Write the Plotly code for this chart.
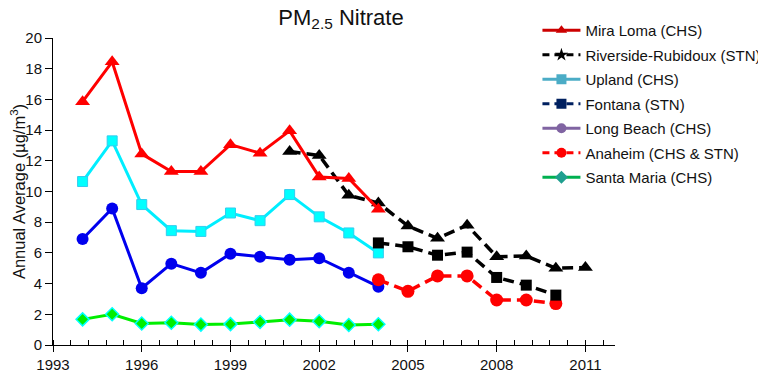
import plotly.graph_objects as go

years_a = [1994, 1995, 1996, 1997, 1998, 1999, 2000, 2001, 2002, 2003, 2004]
mira_loma = [15.85, 18.45, 12.45, 11.3, 11.3, 13.05, 12.5, 13.95, 10.95, 10.85, 8.85]
upland = [10.65, 13.3, 9.15, 7.45, 7.4, 8.6, 8.1, 9.8, 8.35, 7.3, 6.0]
long_beach = [6.9, 8.9, 3.7, 5.3, 4.7, 5.95, 5.75, 5.55, 5.65, 4.7, 3.8]
santa_maria = [1.67, 2.0, 1.4, 1.45, 1.33, 1.36, 1.5, 1.65, 1.55, 1.3, 1.35]

years_rr = [2001, 2002, 2003, 2004, 2005, 2006, 2007, 2008, 2009, 2010, 2011]
riverside = [12.6, 12.35, 9.75, 9.25, 7.75, 6.95, 7.8, 5.75, 5.8, 5.0, 5.05]
years_b = [2004, 2005, 2006, 2007, 2008, 2009, 2010]
fontana = [6.65, 6.4, 5.85, 6.05, 4.4, 3.9, 3.25]
anaheim = [4.25, 3.5, 4.5, 4.5, 2.93, 2.93, 2.7]

legend_names = ["Mira Loma (CHS)", "Riverside-Rubidoux (STN)", "Upland (CHS)", "Fontana (STN)",
                "Long Beach (CHS)", "Anaheim (CHS & STN)", "Santa Maria (CHS)"]

DASH = "11px,6px"
fig = go.Figure()

# data traces (plotted colours)
fig.add_trace(go.Scatter(x=years_a, y=santa_maria, mode="lines+markers", showlegend=False,
                         line=dict(color="#00ee00", width=3),
                         marker=dict(symbol="diamond", size=10, color="#00ee00", line=dict(color="#00ffff", width=1.5))))
fig.add_trace(go.Scatter(x=years_a, y=long_beach, mode="lines+markers", showlegend=False,
                         line=dict(color="#0000ee", width=3),
                         marker=dict(symbol="circle", size=12, color="#0000ee")))
fig.add_trace(go.Scatter(x=years_a, y=upland, mode="lines+markers", showlegend=False,
                         line=dict(color="#00eeff", width=3),
                         marker=dict(symbol="square", size=10, color="#00ffff", line=dict(color="#33ccee", width=1))))
fig.add_trace(go.Scatter(x=years_b, y=anaheim, mode="lines+markers", showlegend=False,
                         line=dict(color="#ff0000", width=3.5, dash=DASH),
                         marker=dict(symbol="circle", size=13, color="#ff0000")))
fig.add_trace(go.Scatter(x=years_b, y=fontana, mode="lines+markers", showlegend=False,
                         line=dict(color="#000000", width=3.5, dash=DASH),
                         marker=dict(symbol="square", size=11, color="#000000")))
fig.add_trace(go.Scatter(x=years_rr, y=riverside, mode="lines+markers", showlegend=False,
                         line=dict(color="#000000", width=3.5, dash=DASH),
                         marker=dict(symbol="triangle-up", size=13, color="#000000")))
fig.add_trace(go.Scatter(x=years_a, y=mira_loma, mode="lines+markers", showlegend=False,
                         line=dict(color="#ff0000", width=3),
                         marker=dict(symbol="triangle-up", size=13, color="#ff0000")))
# helper axis for the inner half of the major x ticks
fig.add_trace(go.Scatter(x=[None], y=[None], xaxis="x2", showlegend=False, hoverinfo="skip"))

# legend entries (legend colours differ from plotted colours in the original)
leg_styles = [
    ("#cc0000", "solid", "triangle-up", "#cc0000"),
    ("#000000", "dash", "star", "#000000"),
    ("#4bacc6", "solid", "square", "#4bacc6"),
    ("#002060", "dash", "square", "#002060"),
    ("#8064a2", "solid", "circle", "#8064a2"),
    ("#ff0000", "dash", "circle", "#ff0000"),
    ("#00b050", "solid", "diamond", "#1f9f8f"),
]
for i, (name, (lc, ds, sym, mc)) in enumerate(zip(legend_names, leg_styles)):
    fig.add_trace(go.Scatter(x=[None], y=[None], mode="lines+markers", name=name,
                             legendgroup=f"g{i}",
                             line=dict(color=lc, width=3, dash="7px,5px" if ds == "dash" else "solid"),
                             marker=dict(symbol=sym, size=10, color=mc)))

# page body has an 8px margin, so the figure is 8px smaller and shifted
fig.update_layout(
    width=758, height=367,
    margin=dict(l=45, r=151, t=30, b=30, autoexpand=False),
    paper_bgcolor="white", plot_bgcolor="white",
    font=dict(family="Liberation Sans, Arial, sans-serif", size=15, color="#111"),
    title=dict(text="PM<sub>2.5</sub> Nitrate", x=0.5125, xref="paper", xanchor="center",
               y=0.975, yanchor="middle", font=dict(size=22, color="#111")),
    showlegend=True,
    legend=dict(x=0.862, y=1.078, xanchor="left", yanchor="top", bgcolor="rgba(0,0,0,0)",
                font=dict(size=15), tracegroupgap=2, traceorder="grouped", itemwidth=38),
    xaxis=dict(range=[1993, 2012], tick0=1993, dtick=3, showgrid=False, zeroline=False,
               showline=True, linecolor="black", linewidth=1, automargin=False,
               ticks="outside", ticklen=6, tickcolor="black",
               minor=dict(tick0=1993, dtick=0.6, ticks="inside", ticklen=5, tickcolor="black", showgrid=False),
               tickfont=dict(size=15)),
    xaxis2=dict(overlaying="x", matches="x", side="bottom", tick0=1993, dtick=3,
                showgrid=False, zeroline=False, showline=False, showticklabels=False,
                ticks="inside", ticklen=5, tickcolor="black", automargin=False),
    yaxis=dict(range=[0, 20], dtick=2, showgrid=False, zeroline=False, automargin=False,
               showline=True, linecolor="black", linewidth=1,
               ticks="outside", ticklen=7, tickcolor="black", tickfont=dict(size=15),
               title=dict(text="Annual Average (µg/m<sup>3</sup>)", font=dict(size=16.5), standoff=18)),
)

fig.write_html("out.html")
